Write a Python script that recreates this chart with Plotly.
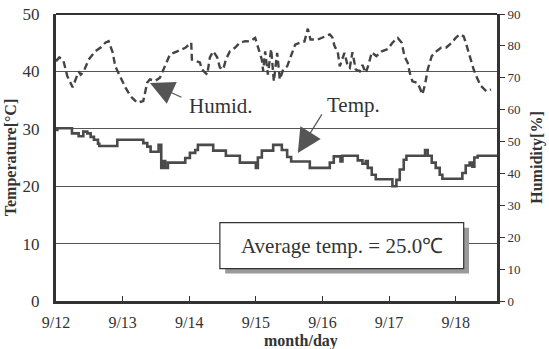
import plotly.graph_objects as go

# ---- data ----
temp_day = [0.00, 0.02, 0.24, 0.34, 0.41, 0.47, 0.52, 0.57, 0.63, 0.65, 0.92, 1.31, 1.37, 1.42,
            1.54, 1.58, 1.61, 1.64, 1.68, 1.94, 2.01, 2.09, 2.13, 2.36, 2.55, 2.76, 3.00, 3.03,
            3.09, 3.26, 3.39, 3.47, 3.53, 3.81, 4.11, 4.17, 4.27, 4.30, 4.53, 4.60, 4.65, 4.68,
            4.74, 4.80, 5.05, 5.11, 5.16, 5.22, 5.26, 5.54, 5.58, 5.64, 5.70, 5.76, 5.80, 6.10,
            6.15, 6.21, 6.25, 6.28, 6.33, 6.62]
temp_val = [29.8, 30.1, 29.2, 28.7, 29.5, 29.2, 28.6, 28.1, 27.4, 27.0, 28.1, 27.5, 26.9, 26.0,
            27.2, 23.2, 24.4, 23.2, 24.1, 24.9, 25.8, 26.3, 27.2, 26.2, 25.3, 24.1, 23.2, 25.0,
            26.2, 27.2, 26.3, 25.1, 24.3, 23.2, 24.1, 25.2, 24.3, 25.3, 24.5, 23.9, 24.4, 23.2,
            22.0, 21.2, 20.0, 21.1, 22.9, 24.6, 25.3, 26.3, 25.3, 24.1, 23.2, 22.0, 21.3, 22.3,
            23.6, 24.1, 23.4, 25.0, 25.3, 25.3]

hum_day = [0.00, 0.05, 0.11, 0.17, 0.25, 0.29, 0.34, 0.37, 0.41, 0.49, 0.59, 0.67, 0.74, 0.79,
           0.85, 0.89, 0.97, 1.04, 1.12, 1.22, 1.31, 1.37, 1.41, 1.49, 1.56, 1.61, 1.71, 1.82,
           1.94, 2.03, 2.04, 2.16, 2.19, 2.27, 2.31, 2.36, 2.42, 2.46, 2.51, 2.55, 2.61, 2.69,
           2.76, 2.84, 2.91, 2.99, 3.03, 3.09, 3.11, 3.14, 3.18, 3.23, 3.27, 3.32, 3.36, 3.41,
           3.47, 3.53, 3.59, 3.66, 3.73, 3.78, 3.82, 3.93, 4.03, 4.11, 4.15, 4.18, 4.23, 4.26,
           4.33, 4.38, 4.41, 4.45, 4.50, 4.56, 4.60, 4.65, 4.69, 4.74, 4.81, 4.89, 4.98, 5.05,
           5.13, 5.19, 5.23, 5.28, 5.31, 5.35, 5.43, 5.47, 5.50, 5.54, 5.58, 5.64, 5.71, 5.78,
           5.86, 5.94, 6.00, 6.06, 6.12, 6.16, 6.21, 6.27, 6.33, 6.38, 6.46, 6.53]
hum_val = [75.2, 76.4, 75.5, 70.5, 67.0, 69.5, 72.0, 71.0, 71.7, 75.7, 78.3, 79.5, 81.0, 81.5,
           78.0, 73.6, 70.0, 67.0, 64.2, 62.2, 62.7, 68.5, 69.5, 69.0, 70.0, 72.6, 77.3, 78.3,
           79.4, 81.0, 75.7, 74.8, 72.6, 71.0, 76.4, 78.3, 76.4, 73.2, 72.6, 75.7, 78.3, 79.5,
           81.0, 81.5, 81.4, 82.5, 80.0, 75.7, 72.0, 78.3, 71.0, 79.0, 68.9, 77.8, 69.5, 72.6,
           73.6, 77.3, 80.4, 81.0, 81.4, 85.4, 82.0, 82.0, 83.0, 83.6, 82.6, 80.0, 78.0, 73.6,
           77.8, 73.6, 73.1, 78.0, 72.6, 72.0, 74.0, 71.5, 74.0, 78.0, 76.8, 78.3, 79.0, 81.0,
           82.5, 81.0, 76.8, 74.7, 71.6, 68.9, 68.4, 66.3, 64.8, 67.9, 72.6, 76.8, 78.3, 79.4,
           79.5, 81.0, 82.5, 83.6, 83.0, 80.4, 76.8, 72.6, 69.5, 67.4, 65.8, 66.3]

x_tickvals = [0, 1, 2, 3, 4, 5, 6]
x_ticktext = ["9/12", "9/13", "9/14", "9/15", "9/16", "9/17", "9/18"]
temp_ticks = [0, 10, 20, 30, 40, 50]
hum_ticks = [0, 10, 20, 30, 40, 50, 60, 70, 80, 90]
avg_label = "Average temp. = 25.0℃"

SERIF = "Liberation Serif, Times New Roman, serif"
INK = "#333333"

fig = go.Figure()
fig.add_trace(go.Scatter(x=temp_day, y=temp_val, mode="lines", line_shape="hv",
                         line=dict(color="#4a4a4a", width=2.6), yaxis="y", showlegend=False))
fig.add_trace(go.Scatter(x=hum_day, y=hum_val, mode="lines",
                         line=dict(color="#444444", width=2.4, dash="7px,4px"),
                         yaxis="y2", showlegend=False))

# average-temperature box with shadow
fig.add_shape(type="rect", xref="x", yref="y", x0=2.54, x1=6.20, y0=4.78, y1=12.78,
              fillcolor="#9a9a9a", line=dict(width=0), layer="above")
fig.add_shape(type="rect", xref="x", yref="y", x0=2.46, x1=6.12, y0=5.65, y1=13.65,
              fillcolor="white", line=dict(color=INK, width=1.2), layer="above")
# top frame line
fig.add_shape(type="line", xref="paper", yref="paper", x0=0, x1=1, y0=1, y1=1,
              line=dict(color=INK, width=2))

fig.add_annotation(x=4.29, y=9.65, xref="x", yref="y", text=avg_label, showarrow=False,
                   font=dict(family=SERIF, size=21, color=INK))
fig.add_annotation(x=1.41, y=38.0, xref="x", yref="y", ax=33, ay=15, text="",
                   showarrow=True, arrowhead=2, arrowsize=4, arrowwidth=1.2, arrowcolor="#555")
fig.add_annotation(x=2.48, y=34.0, xref="x", yref="y", text="Humid.", showarrow=False,
                   font=dict(family=SERIF, size=21, color=INK))
fig.add_annotation(x=3.63, y=25.8, xref="x", yref="y", ax=25, ay=-40, text="",
                   showarrow=True, arrowhead=2, arrowsize=4, arrowwidth=1.2, arrowcolor="#555")
fig.add_annotation(x=4.47, y=34.2, xref="x", yref="y", text="Temp.", showarrow=False,
                   font=dict(family=SERIF, size=21, color=INK))
fig.add_annotation(x=0.555, y=-0.14, xref="paper", yref="paper", text="<b>month/day</b>",
                   showarrow=False, yanchor="middle", font=dict(family=SERIF, size=16, color=INK))

fig.update_layout(
    width=549, height=349,
    margin=dict(l=56, r=52, t=14, b=48, autoexpand=False),
    paper_bgcolor="white", plot_bgcolor="white",
    xaxis=dict(range=[0, 6.62], tickvals=x_tickvals, ticktext=x_ticktext, automargin=False,
               ticks="inside", ticklen=5, tickcolor=INK, showgrid=False, zeroline=False,
               showline=True, linecolor=INK, linewidth=3, ticklabelstandoff=5,
               tickfont=dict(family=SERIF, size=16, color=INK)),
    yaxis=dict(range=[0, 50], tickvals=temp_ticks, showgrid=True, gridcolor="#555",
               gridwidth=1, zeroline=False, showline=True, linecolor=INK, linewidth=3,
               automargin=False,
               ticks="", ticklabelstandoff=10, tickfont=dict(family=SERIF, size=17, color=INK),
               title=dict(text="<b>Temperature[°C]</b>", standoff=2,
                          font=dict(family=SERIF, size=16, color=INK))),
    yaxis2=dict(range=[0, 90], tickvals=hum_ticks, overlaying="y", side="right",
                showgrid=False, zeroline=False, showline=True, linecolor=INK, linewidth=3,
                automargin=False,
                ticks="outside", ticklen=5, tickcolor=INK,
                tickfont=dict(family=SERIF, size=13, color=INK),
                title=dict(text="<b>Humidity[%]</b>", standoff=12,
                           font=dict(family=SERIF, size=16, color=INK))),
)

fig.write_html("out.html")
